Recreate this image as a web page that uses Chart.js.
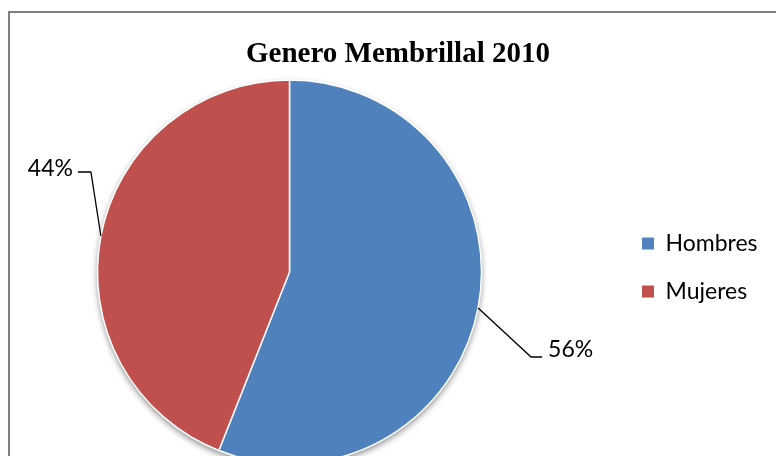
<!DOCTYPE html>
<html>
<head>
<meta charset="utf-8">
<script src="https://cdn.jsdelivr.net/npm/chart.js@4"></script>
<style>
  html, body { margin: 0; padding: 0; background: #fff; overflow: hidden; }
  #wrap { position: relative; width: 776px; height: 456px; overflow: hidden; }
  #pieChart { position: absolute; left: -38px; top: 0; }
</style>
</head>
<body>
<div id="wrap"><canvas id="pieChart" width="830" height="480"></canvas></div>
<script>
const chartTitle = 'Genero Membrillal 2010';
const categories = ['Hombres', 'Mujeres'];
const values = [56, 44];
const colors = ['#4F81BD', '#C0504D'];

// canvas sits 38px left of the page
const SHIFT = 38;

// leader line for each slice label: offset from the slice edge to the elbow, tail length, text offset
const leaders = [
    { dx: 53, dy: 49, tail: 11, gap: 6, ty: -7 },
    { dx: -10, dy: -64, tail: -13, gap: 5, ty: -3 },
];

const frame = {
    id: 'frame',
    beforeDraw(chart) {
        const ctx = chart.ctx;
        ctx.save();
        ctx.strokeStyle = '#7f7f7f';
        ctx.lineWidth = 2;
        ctx.strokeRect(9 + SHIFT, 12, 900, 600);
        ctx.fillStyle = '#000';
        ctx.font = 'bold 29px "Liberation Serif", "Times New Roman", serif';
        ctx.textAlign = 'center';
        ctx.textBaseline = 'alphabetic';
        ctx.fillText(chartTitle, 398 + SHIFT, 62);
        ctx.restore();
    },
};

const pieShadow = {
    id: 'pieShadow',
    beforeDatasetsDraw(chart) {
        const arc = chart.getDatasetMeta(0).data[0];
        if (!arc) return;
        const ctx = chart.ctx;
        ctx.save();
        ctx.shadowColor = 'rgba(0, 0, 0, 0.45)';
        ctx.shadowBlur = 6;
        ctx.shadowOffsetY = 3;
        ctx.fillStyle = '#fff';
        ctx.beginPath();
        ctx.arc(arc.x, arc.y, arc.outerRadius, 0, Math.PI * 2);
        ctx.fill();
        ctx.restore();
    },
};

const sliceLabels = {
    id: 'sliceLabels',
    afterDatasetsDraw(chart) {
        const ctx = chart.ctx;
        const meta = chart.getDatasetMeta(0);
        const data = chart.data.datasets[0].data;
        const total = data.reduce((a, b) => a + b, 0);
        ctx.save();
        ctx.strokeStyle = '#000';
        ctx.lineWidth = 1.3;
        ctx.fillStyle = '#000';
        ctx.font = '23px Lato, "Open Sans", sans-serif';
        ctx.textBaseline = 'middle';
        meta.data.forEach((el, i) => {
            const { x, y, startAngle, endAngle, outerRadius } = el.getProps(['x', 'y', 'startAngle', 'endAngle', 'outerRadius'], true);
            const mid = (startAngle + endAngle) / 2;
            const ex = x + Math.cos(mid) * outerRadius;
            const ey = y + Math.sin(mid) * outerRadius;
            const l = leaders[i];
            const bx = ex + l.dx;
            const by = ey + l.dy;
            const tx = bx + l.tail;
            ctx.beginPath();
            ctx.moveTo(ex, ey);
            ctx.lineTo(bx, by);
            ctx.lineTo(tx, by);
            ctx.stroke();
            const text = Math.round(data[i] / total * 100) + '%';
            ctx.textAlign = l.tail > 0 ? 'left' : 'right';
            ctx.fillText(text, tx + (l.tail > 0 ? l.gap : -l.gap), by + l.ty);
        });
        ctx.restore();
    },
};

document.addEventListener('DOMContentLoaded', () => {
    const ctx = document.getElementById('pieChart').getContext('2d');
    new Chart(ctx, {
        type: 'pie',
        data: {
            labels: categories,
            datasets: [{
                data: values,
                backgroundColor: colors,
                borderColor: '#fff',
                borderWidth: 1.5,
                radius: 192,
                clip: false,
            }],
        },
        options: {
            responsive: false,
            animation: false,
            layout: {
                padding: { left: 0, right: 35, top: 207, bottom: 143 },
            },
            plugins: {
                title: { display: false },
                tooltip: { enabled: false },
                legend: {
                    position: 'right',
                    align: 'start',
                    maxWidth: 140,
                    labels: {
                        boxWidth: 12,
                        boxHeight: 12,
                        padding: 25,
                        color: '#000',
                        font: { family: 'Lato, "Open Sans", sans-serif', size: 23 },
                        generateLabels(chart) {
                            const items = Chart.overrides.pie.plugins.legend.labels.generateLabels(chart);
                            return items.map(item => ({ ...item, lineWidth: 0 }));
                        },
                    },
                },
            },
        },
        plugins: [frame, pieShadow, sliceLabels],
    });
});
</script>
</body>
</html>
